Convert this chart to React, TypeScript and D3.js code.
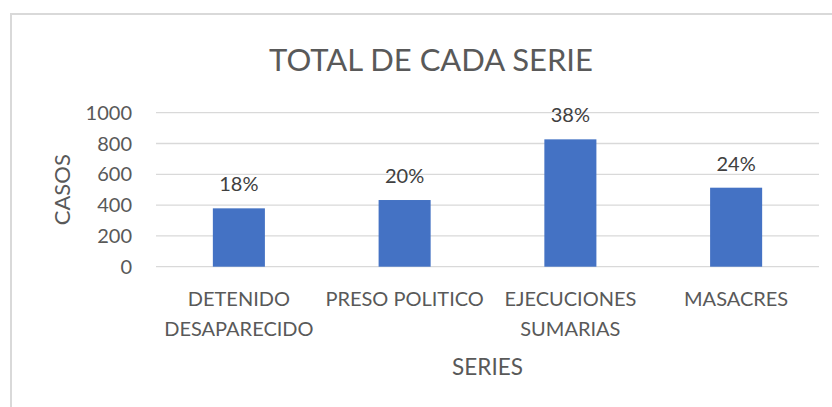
import { useEffect, useRef } from 'react';
import * as d3 from 'd3';

const categories: string[][] = [
  ['DETENIDO', 'DESAPARECIDO'],
  ['PRESO POLITICO'],
  ['EJECUCIONES', 'SUMARIAS'],
  ['MASACRES'],
];
const casos: number[] = [379, 433, 827, 513];
const yTicks: number[] = [0, 200, 400, 600, 800, 1000];

const FONT = 'Lato, "Open Sans", sans-serif';

function App() {
  const svgRef = useRef<SVGSVGElement>(null);

  useEffect(() => {
    document.body.style.margin = '0';
    const width = 832;
    const height = 407;

    const svg = d3.select(svgRef.current);
    svg.selectAll('*').remove();
    svg.attr('width', width).attr('height', height);

    // chart area border
    svg.append('rect')
      .attr('x', 11)
      .attr('y', 14)
      .attr('width', 900)
      .attr('height', 500)
      .attr('fill', '#fff')
      .attr('stroke', '#d9d9d9')
      .attr('stroke-width', 2);

    const keys = categories.map(c => c.join(' '));
    const x = d3.scaleBand<string>()
      .domain(keys)
      .range([156, 819])
      .paddingInner(0.686)
      .paddingOuter(0.343);

    const y = d3.scaleLinear()
      .domain([0, 1000])
      .range([266.7, 112.7]);

    // gridlines
    svg.append('g')
      .selectAll('line')
      .data(yTicks)
      .join('line')
      .attr('x1', 156)
      .attr('x2', 819)
      .attr('y1', d => y(d))
      .attr('y2', d => y(d))
      .attr('stroke', '#d9d9d9')
      .attr('stroke-width', 1.3);

    // y tick labels
    svg.append('g')
      .selectAll('text')
      .data(yTicks)
      .join('text')
      .attr('x', 132)
      .attr('y', d => y(d))
      .attr('dy', '0.35em')
      .attr('text-anchor', 'end')
      .attr('fill', '#595959')
      .style('font-family', FONT)
      .style('font-size', '20px')
      .text(d => d);

    // bars
    svg.append('g')
      .selectAll('rect')
      .data(casos)
      .join('rect')
      .attr('x', (d, i) => x(keys[i])!)
      .attr('width', x.bandwidth())
      .attr('y', d => y(d))
      .attr('height', d => y(0) - y(d))
      .attr('fill', '#4472c4');

    // percentage labels
    const total = d3.sum(casos);
    svg.append('g')
      .selectAll('text')
      .data(casos)
      .join('text')
      .attr('x', (d, i) => x(keys[i])! + x.bandwidth() / 2)
      .attr('y', d => y(d) - 17)
      .attr('text-anchor', 'middle')
      .attr('fill', '#404040')
      .style('font-family', FONT)
      .style('font-size', '20px')
      .text(d => `${Math.round((d / total) * 100)}%`);

    // category labels
    const cat = svg.append('g')
      .selectAll('text')
      .data(categories)
      .join('text')
      .attr('x', (d, i) => x(keys[i])! + x.bandwidth() / 2)
      .attr('y', 306)
      .attr('text-anchor', 'middle')
      .attr('fill', '#595959')
      .style('font-family', FONT)
      .style('font-size', '20px');
    cat.selectAll('tspan')
      .data(d => d)
      .join('tspan')
      .attr('x', function () {
        return (this as SVGTSpanElement).parentElement!.getAttribute('x');
      })
      .attr('dy', (d, i) => (i === 0 ? 0 : 30))
      .text(d => d);

    // axis titles
    svg.append('text')
      .attr('x', (156 + 819) / 2)
      .attr('y', 375)
      .attr('text-anchor', 'middle')
      .attr('fill', '#595959')
      .style('font-family', FONT)
      .style('font-size', '22.5px')
      .text('SERIES');

    svg.append('text')
      .attr('transform', `translate(70,${(y(0) + y(1000)) / 2}) rotate(-90)`)
      .attr('text-anchor', 'middle')
      .attr('fill', '#595959')
      .style('font-family', FONT)
      .style('font-size', '22px')
      .text('CASOS');

    // title
    svg.append('text')
      .attr('x', 431)
      .attr('y', 71)
      .attr('text-anchor', 'middle')
      .attr('fill', '#595959')
      .style('font-family', FONT)
      .style('font-size', '31px')
      .text('TOTAL DE CADA SERIE');
  }, []);

  return (
    <div>
      <svg ref={svgRef} style={{ display: 'block' }}></svg>
    </div>
  );
}

export default App;
